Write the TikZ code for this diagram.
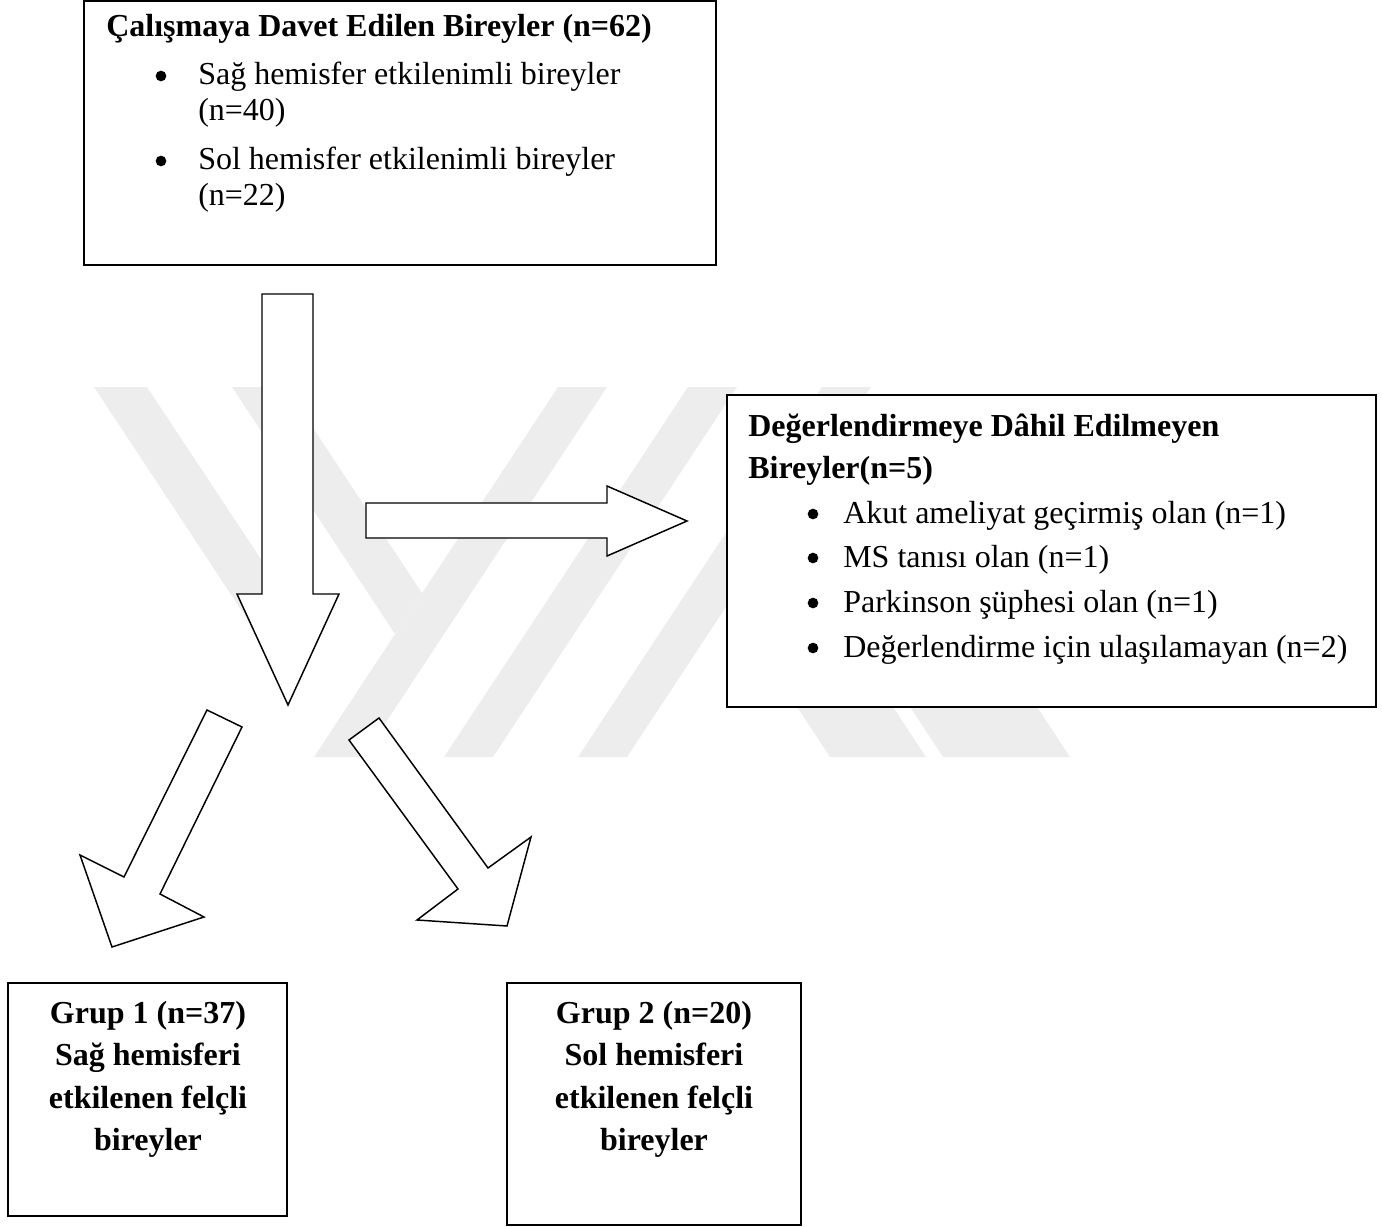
\documentclass[tikz,border=0pt]{standalone}
\usepackage{fontspec}
\setmainfont{Liberation Serif}
\begin{document}
\begin{tikzpicture}[x=0.75pt,y=-0.75pt,
  box/.style={draw=black, line width=1.5pt, fill=white},
  blockarrow/.style={draw=black, line width=1.1pt, fill=white, line join=miter},
  wm/.style={fill=black!7, draw=none},
  txt/.style={inner sep=0pt, anchor=base west, font=\fontsize{24pt}{27pt}\selectfont},
  btxt/.style={inner sep=0pt, anchor=base west, font=\fontsize{24pt}{27pt}\selectfont\bfseries},
  ctxt/.style={inner sep=0pt, anchor=base, font=\fontsize{24pt}{27pt}\selectfont\bfseries},
  dot/.style={circle, fill=black, draw=none, inner sep=0pt, minimum size=8pt}
]
\useasboundingbox (0,0) rectangle (1382,1227);

% faint watermark stripes
\fill[wm] (94,387) -- (147,387) -- (286,597) -- (259,637) -- cycle;
\fill[wm] (232,387) -- (286,387) -- (422,593) -- (395,634) -- cycle;
\fill[wm] (558,387) -- (607,387) -- (363,757) -- (314,757) -- cycle;
\fill[wm] (688,387) -- (737,387) -- (493,757) -- (444,757) -- cycle;
\fill[wm] (822,387) -- (871,387) -- (627,757) -- (578,757) -- cycle;
\fill[wm] (753,640) -- (849,640) -- (926,757) -- (830,757) -- cycle;
\fill[wm] (866,640) -- (993,640) -- (1070,757) -- (943,757) -- cycle;

% top box
\draw[box] (84,1) rectangle (716,265);
\node[btxt] (t0) at (106,37) {Çalışmaya Davet Edilen Bireyler (n=62)};
\node[dot] (tb1) at (161,76) {};
\node[txt] (t1) at (198,85) {Sağ hemisfer etkilenimli bireyler};
\node[txt] (t2) at (198,121) {(n=40)};
\node[dot] (tb2) at (161,161) {};
\node[txt] (t3) at (198,170) {Sol hemisfer etkilenimli bireyler};
\node[txt] (t4) at (198,206) {(n=22)};

% arrows
\draw[blockarrow] (262,294) -- (313,294) -- (313,594) -- (339,594) -- (288,705) -- (237,594) -- (262,594) -- cycle;
\draw[blockarrow] (366,503) -- (607,503) -- (607,486) -- (687,521) -- (607,556) -- (607,538) -- (366,538) -- cycle;
\draw[blockarrow] (207,710) -- (242,727) -- (160,894) -- (204,917) -- (112,947) -- (80,855) -- (124,877) -- cycle;
\draw[blockarrow] (379,718) -- (349,740) -- (458,889) -- (417,920) -- (507,926) -- (531,837) -- (488,868) -- cycle;

% right box
\draw[box] (727,395) rectangle (1376,707);
\node[btxt] (r0) at (748,436) {Değerlendirmeye Dâhil Edilmeyen};
\node[btxt] (r1) at (748,478) {Bireyler(n=5)};
\node[dot] (rb1) at (813,514) {};
\node[txt] (r2) at (843,523) {Akut ameliyat geçirmiş olan (n=1)};
\node[dot] (rb2) at (813,558) {};
\node[txt] (r3) at (843,567) {MS tanısı olan (n=1)};
\node[dot] (rb3) at (813,603) {};
\node[txt] (r4) at (843,612) {Parkinson şüphesi olan (n=1)};
\node[dot] (rb4) at (813,648) {};
\node[txt] (r5) at (843,657) {Değerlendirme için ulaşılamayan (n=2)};

% bottom boxes
\draw[box] (8,983) rectangle (287,1216);
\node[ctxt] (g1a) at (148,1023) {Grup 1 (n=37)};
\node[ctxt] (g1b) at (148,1065) {Sağ hemisferi};
\node[ctxt] (g1c) at (148,1108) {etkilenen felçli};
\node[ctxt] (g1d) at (148,1150) {bireyler};

\draw[box] (507,983) rectangle (801,1225);
\node[ctxt] (g2a) at (654,1023) {Grup 2 (n=20)};
\node[ctxt] (g2b) at (654,1065) {Sol hemisferi};
\node[ctxt] (g2c) at (654,1108) {etkilenen felçli};
\node[ctxt] (g2d) at (654,1150) {bireyler};
\end{tikzpicture}
\end{document}
